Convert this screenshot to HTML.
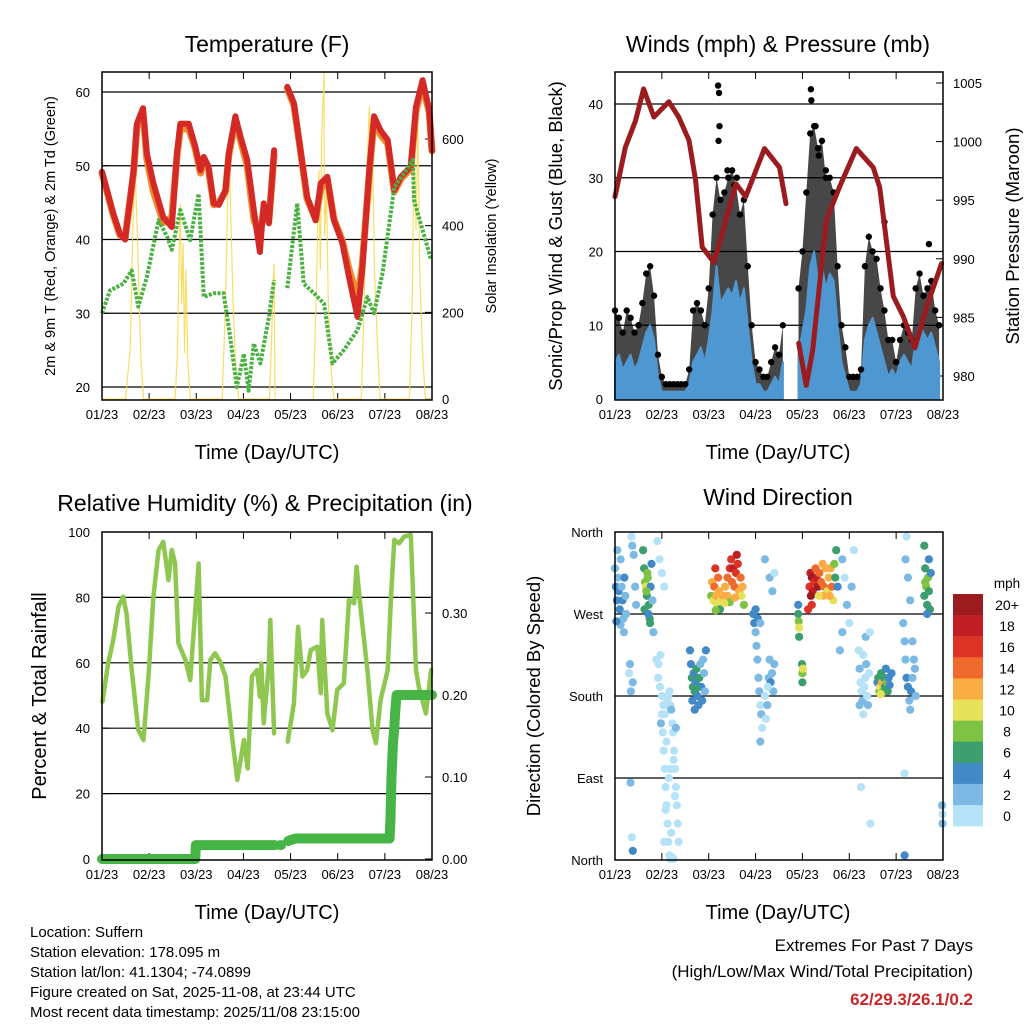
<!DOCTYPE html>
<html><head><meta charset="utf-8"><style>
html,body{margin:0;padding:0;background:#fff;}
svg{display:block;font-family:"Liberation Sans",Arial,sans-serif;}
</style></head><body>
<svg id="s" width="1024" height="1024" viewBox="0 0 1024 1024">
<rect width="1024" height="1024" fill="#fff"/>
<g id="g"></g>
<text x="267" y="52" font-size="23" text-anchor="middle">Temperature (F)</text>
<text x="778" y="52" font-size="23" text-anchor="middle">Winds (mph) &amp; Pressure (mb)</text>
<text x="265" y="511" font-size="23" text-anchor="middle">Relative Humidity (%) &amp; Precipitation (in)</text>
<text x="778" y="505" font-size="23" text-anchor="middle">Wind Direction</text>
<text x="267" y="459" font-size="20" text-anchor="middle">Time (Day/UTC)</text>
<text x="778" y="459" font-size="20" text-anchor="middle">Time (Day/UTC)</text>
<text x="267" y="919" font-size="20" text-anchor="middle">Time (Day/UTC)</text>
<text x="778" y="919" font-size="20" text-anchor="middle">Time (Day/UTC)</text>
<text transform="translate(55,236) rotate(-90)" font-size="14.5" text-anchor="middle">2m &amp; 9m T (Red, Orange) &amp; 2m Td (Green)</text>
<text transform="translate(496,236) rotate(-90)" font-size="14.5" text-anchor="middle">Solar Insolation (Yellow)</text>
<text transform="translate(562,236) rotate(-90)" font-size="18.5" text-anchor="middle">Sonic/Prop Wind &amp; Gust (Blue, Black)</text>
<text transform="translate(1019,236) rotate(-90)" font-size="18.5" text-anchor="middle">Station Pressure (Maroon)</text>
<text transform="translate(46,696) rotate(-90)" font-size="20" text-anchor="middle">Percent &amp; Total Rainfall</text>
<text transform="translate(540,696) rotate(-90)" font-size="18.5" text-anchor="middle">Direction (Colored By Speed)</text>
<g font-size="15">
<text x="30" y="937">Location: Suffern</text>
<text x="30" y="957">Station elevation: 178.095 m</text>
<text x="30" y="977">Station lat/lon: 41.1304; -74.0899</text>
<text x="30" y="997">Figure created on Sat, 2025-11-08, at 23:44 UTC</text>
<text x="30" y="1017">Most recent data timestamp: 2025/11/08 23:15:00</text>
</g>
<g font-size="17" text-anchor="end">
<text x="973" y="951">Extremes For Past 7 Days</text>
<text x="973" y="977">(High/Low/Max Wind/Total Precipitation)</text>
<text x="973" y="1005" fill="#c8282a" font-weight="bold">62/29.3/26.1/0.2</text>
</g>
</svg>
<script>
// ---------- data ----------
const dayLabels=["01/23","02/23","03/23","04/23","05/23","06/23","07/23","08/23"];
const tempTicks=[20,30,40,50,60];
const solarTicks=[0,200,400,600];
const windTicks=[0,10,20,30,40];
const presTicks=[980,985,990,995,1000,1005];
const rhTicks=[0,20,40,60,80,100];
const precipTicks=["0.00","0.10","0.20","0.30"];
const dirLabels=["North","East","South","West","North"];
const dirTicks=[0,90,180,270,360];
const speedBins=["0","2","4","6","8","10","12","14","16","18","20+"];
const speedColors=["#b5e2f7","#7cbae3","#4189c7","#3c9e6c","#7dc242","#e6e159","#f8ad45","#ef6a2c","#dd3327","#c11e24","#9b1b1e"];

const tempT=[0,0.24,0.38,0.49,0.67,0.74,0.87,0.95,1.09,1.3,1.48,1.59,1.66,1.84,1.98,2.09,2.16,2.26,2.37,2.48,2.62,2.69,2.83,2.94,3.08,3.22,3.35,3.43,3.54,3.65,null,3.93,4.07,4.21,4.35,4.53,4.64,4.78,4.92,5.1,5.24,5.42,5.52,5.67,5.77,5.91,6.06,6.2,6.34,6.55,6.66,6.8,6.94,7.0];
const tempRed=[49.2,43.5,40.8,40,49.4,55.7,57.8,51.7,47.6,43,41.7,51.7,55.7,55.7,52.6,49.4,51.2,49.9,44.9,44.7,46.7,51.7,56.7,53.9,50.8,44,38.3,44.9,42.2,52.1,null,60.7,58.5,52.1,45.8,42.6,47.6,48.5,42.6,39.5,34.9,29.5,35.8,49.4,56.7,54.8,53.5,46.7,48.5,49.9,58,61.6,57.6,52.1];
const tempOrange=[49,43.3,40.6,40.2,49,55.2,57.2,51,46.5,42.3,43,51.3,55,55,52.3,49,50.8,49.5,44.7,45,46.5,51.4,56.2,53.4,50,42.8,40.5,44,42.5,51.5,null,60.5,58.2,52,45.5,42.8,46.8,48.2,42.8,39.8,36,32,36.5,49,56,54.2,53,46.5,48.2,49.6,57.4,61,57.2,52];
const tdT=[0,0.17,0.45,0.63,0.77,0.95,1.2,1.38,1.48,1.66,1.87,2.05,2.16,2.37,2.58,2.72,2.86,3.01,3.11,3.22,3.36,3.54,3.65,null,3.93,4.14,4.28,4.5,4.71,4.89,5.13,5.42,5.63,5.77,5.95,6.2,6.41,6.59,6.62,6.84,6.98];
const tdVal=[30,33.1,34,35.8,30.9,34.9,42.6,40.4,38.6,44,39.9,46.2,32.2,32.7,32.7,26.8,20,24.5,19.5,25.9,23.2,29.5,34.5,null,33.4,44.9,34,32.7,31.3,23.2,25,27.7,32.2,30,35.4,47.1,49,50.8,45.3,40.4,37.2];
const solarT=[0,0.5,0.6,0.65,0.7,0.75,0.82,0.88,1.55,1.6,1.63,1.66,1.69,1.72,1.75,1.78,1.82,1.87,2.55,2.62,2.68,2.7,2.74,2.78,2.84,2.9,3.55,3.6,3.63,3.65,3.67,null,4.48,4.55,4.6,4.63,4.66,4.71,4.72,4.76,4.8,4.86,4.92,5.5,5.56,5.62,5.67,5.7,5.74,5.78,5.85,5.9,6.52,6.58,6.62,6.66,6.7,6.74,6.8,6.86,7.0];
const solarVal=[0,0,120,375,536,375,105,0,0,105,298,451,221,359,105,298,90,0,0,221,528,551,390,221,67,0,0,144,267,313,0,null,0,259,528,298,605,755,375,490,221,67,0,0,221,528,674,451,567,298,105,0,0,221,605,390,628,298,105,0,0];

const windAvg=[5,6,4,5,6,4,5,7,9,10,8,3, 1,1,1,1,1,1,1,2,5,6,7,5, 8,12,18,13,14,15,14,16,13,15,10,5, 2,2,1,1,2,3,2,5,null,null,null,6, 9,12,18,20,16,18,15,17,16,10,5,3, 1,1,1,2,8,10,11,9,7,5,3,4, 3,5,6,5,4,8,10,9,8,9,7,5];
const windGust=[12,11,9,12,11,9,10,13,17,18,14,6, 3,2,2,2,2,2,2,4,12,13,12,10, 15,25,30,27,28,30,31,29,25,27,18,10, 5,4,3,3,5,7,6,10,null,null,null,15, 20,28,36,37,34,35,30,30,28,18,10,7, 3,3,3,4,18,22,20,19,15,12,8,8, 5,8,10,9,8,15,17,14,15,16,12,10];
const gustOutlierT=[2.2,2.22,2.23,2.21,4.18,4.19,4.28,2.4,2.6,4.35,5.75,6.7,2.55,4.5];
const gustOutlierV=[42.5,41.5,37,35,42,40.5,37,31,30,33,24,21,29,31];
const presT=[0,0.22,0.44,0.61,0.83,1.15,1.36,1.58,1.72,1.86,2.11,2.29,2.58,2.79,3.19,3.51,3.65,null,3.92,4.08,4.22,4.51,4.79,5.15,5.51,5.65,5.94,6.15,6.4,6.65,6.97];
const presVal=[995.3,999.5,1001.8,1004.5,1002.1,1003.4,1002.1,1000.1,996.7,991,989.7,992.2,996.4,995.3,999.4,997.8,994.7,null,982.8,979.2,982.2,993.3,996.1,999.4,997.8,996.1,986.8,985.1,982.4,985.9,989.6];

const rhT=[0.01,0.13,0.24,0.35,0.45,0.52,0.63,0.77,0.88,0.99,1.09,1.2,1.3,1.41,1.48,1.55,1.62,1.77,1.87,1.98,2.05,2.12,2.23,2.3,2.4,2.51,2.62,2.76,2.87,3.01,3.09,3.18,3.29,3.35,3.38,3.43,3.54,3.57,3.65,null,3.94,4.07,4.16,4.25,4.35,4.43,4.57,4.64,4.67,4.78,4.89,4.99,5.13,5.24,5.35,5.4,5.49,5.63,5.74,5.81,5.91,6.06,6.13,6.2,6.3,6.41,6.55,6.66,6.72,6.87,6.98];
const rhVal=[48.1,59.8,67,77.2,80.2,75.1,57.8,39.4,36.4,56.8,80.2,94.5,97,85.3,94.5,90.4,66,60.9,54.7,76.1,90.4,48.6,48.6,60.9,62.9,60.3,55.8,37.4,24.2,36.4,27.7,55.8,57.8,49.6,59.8,41.5,59.8,73.1,38.4,null,35.9,47.6,71,55.8,57.8,63.9,64.9,50.7,73.1,44.5,39.4,51.7,53.7,79.2,78.2,89.4,76.1,57.8,39.4,35.4,48.6,57.8,80.2,97.6,96.5,98.6,99.1,57.8,52.7,44.5,57.8];
const precipT=[0,1.98,1.99,3.67,null,3.78,3.8,null,3.95,4.1,6.1,6.12,6.14,6.17,6.2,6.22,6.25,7.0];
const precipVal=[0,0,0.017,0.017,null,0.017,0.017,null,0.022,0.025,0.025,0.05,0.1,0.14,0.16,0.18,0.2,0.2];

const windDirPoints=[
[0.0,320,3],[0.02,300,4],[0.04,285,4],[0.06,310,3],[0.08,295,5],[0.1,275,4],[0.12,330,2],[0.14,300,3],[0.16,285,4],[0.18,265,3],[0.2,310,4],[0.22,290,2],[0.24,270,3],[0.05,340,2],[0.12,258,2],[0.19,250,3],[0.03,262,4],
[0.35,355,1],[0.37,345,2],[0.4,335,3],[0.43,300,2],[0.45,280,3],[0.3,205,1],[0.32,215,3],[0.34,185,2],[0.38,195,2],[0.33,85,2],[0.36,25,1],[0.38,10,4],
[0.6,340,6],[0.62,320,7],[0.64,305,8],[0.66,300,10],[0.68,290,7],[0.7,310,9],[0.72,280,6],[0.74,265,7],[0.76,300,5],[0.78,325,4],[0.8,285,3],[0.63,275,6],[0.69,315,8],[0.71,270,5],[0.82,250,3],[0.67,295,8],[0.75,260,6],
[0.9,350,1],[0.95,330,1],[1.0,315,0],[1.05,300,1],[0.88,220,1],[0.92,200,1],[0.96,190,0],[1.0,180,1],[1.03,170,0],[1.06,160,1],[0.98,150,2],[0.93,215,0],
[1.0,160,0],[1.02,140,1],[1.04,120,0],[1.06,100,0],[1.08,80,1],[1.1,60,0],[1.12,40,0],[1.14,20,1],[1.16,5,0],[1.18,1,0],[1.2,2,1],[1.22,3,0],[1.25,1,0],[1.1,170,0],[1.12,175,1],[1.14,180,0],[1.16,185,1],[1.18,170,0],[1.2,165,2],[1.22,150,1],[1.24,140,0],[1.26,120,1],[1.28,100,0],[1.3,80,1],[1.32,60,0],[1.34,40,1],[1.36,20,0],[1.05,20,1],[1.08,55,1],[1.15,90,0],[1.25,110,0],[1.3,145,3],[1.2,30,0],[1.28,70,1],[1.1,130,1],[1.18,100,0],[0.97,225,1],
[1.6,230,4],[1.62,215,5],[1.64,200,6],[1.66,190,7],[1.68,205,5],[1.7,185,6],[1.72,195,4],[1.74,210,7],[1.76,180,5],[1.78,170,4],[1.8,200,6],[1.82,215,3],[1.84,190,4],[1.86,175,4],[1.88,220,3],[1.9,205,2],[1.92,185,3],[1.94,230,4],[1.65,175,5],[1.73,188,6],[1.7,165,4],
[2.05,290,8],[2.07,305,12],[2.1,285,11],[2.12,300,14],[2.14,320,16],[2.16,290,13],[2.18,280,10],[2.2,310,14],[2.22,295,12],[2.24,275,6],[2.26,285,10],[2.3,290,12],[2.35,300,12],[2.4,310,14],[2.45,320,16],[2.48,330,17],[2.5,305,15],[2.52,320,18],[2.55,300,14],[2.58,315,16],[2.6,335,18],[2.62,325,16],[2.65,295,12],[2.68,310,15],[2.7,290,10],[2.72,300,13],[2.75,280,8],[2.4,290,12],[2.45,283,8],[2.56,288,12],[2.33,282,11],[2.15,274,9],
[2.95,270,4],[2.97,260,4],[3.0,250,3],[3.02,235,2],[3.04,220,3],[3.06,200,2],[3.08,185,2],[3.1,170,1],[3.12,160,2],[3.14,145,1],[3.05,265,4],[3.1,260,3],[3.0,275,4],[3.2,180,1],[3.25,170,2],[3.28,200,3],[3.3,220,2],[3.32,195,4],[3.35,205,3],[3.38,185,2],[3.22,155,1],[3.26,190,1],[3.4,215,2],[3.2,330,2],[3.3,310,2],[3.36,295,2],[3.1,130,2],[3.4,315,1],
[3.91,270,6],[3.92,262,8],[3.93,255,10],[3.91,280,4],[3.93,245,6],[3.99,215,6],[4.0,205,8],[4.01,210,10],[4.0,195,7],
[4.15,300,16],[4.17,315,18],[4.2,310,20],[4.22,295,18],[4.25,305,16],[4.28,320,14],[4.3,310,18],[4.33,300,20],[4.36,315,14],[4.4,305,15],[4.43,325,12],[4.46,300,14],[4.5,320,12],[4.53,295,10],[4.56,310,13],[4.6,320,12],[4.63,300,14],[4.66,285,10],[4.68,325,8],[4.7,310,6],[4.72,340,6],[4.75,300,4],[4.2,280,17],[4.18,290,20],[4.45,290,13],[4.58,290,12],[4.35,290,11],[4.12,275,16],
[4.85,330,2],[4.9,310,1],[4.95,280,2],[5.0,260,1],[5.05,300,2],[5.1,340,1],[4.8,230,2],[4.85,250,2],
[5.2,230,0],[5.22,210,2],[5.24,195,1],[5.26,185,0],[5.28,175,2],[5.3,160,1],[5.32,190,0],[5.34,200,1],[5.36,215,2],[5.38,180,0],[5.4,170,3],[5.42,205,1],[5.22,170,2],[5.3,225,0],[5.35,245,3],[5.44,250,1],[5.25,80,1],[5.45,40,1],
[5.6,195,5],[5.62,200,7],[5.64,185,8],[5.66,190,10],[5.68,205,6],[5.7,195,12],[5.72,185,9],[5.74,200,7],[5.76,190,6],[5.78,210,5],[5.8,195,8],[5.82,185,6],[5.84,200,5],[5.86,192,4],[5.9,205,5],[5.67,182,10],
[6.15,260,2],[6.18,240,2],[6.2,220,3],[6.22,200,4],[6.25,190,4],[6.28,175,3],[6.3,165,2],[6.32,185,4],[6.35,200,3],[6.38,220,2],[6.4,210,3],[6.2,330,2],[6.22,355,1],[6.25,310,3],[6.3,285,2],[6.18,95,1],[6.18,5,4],[6.35,240,2],[6.42,180,2],
[6.6,290,7],[6.62,305,8],[6.64,300,9],[6.66,280,6],[6.68,310,8],[6.7,295,7],[6.72,275,6],[6.74,315,5],[6.62,320,7],[6.6,345,6],[6.7,330,4],[6.66,270,4],[6.98,60,3],[6.99,40,2],[6.99,50,1]];

// ---------- rendering ----------
const NS="http://www.w3.org/2000/svg";
const G=document.getElementById('g');
function mk(tag,attrs,parent){const e=document.createElementNS(NS,tag);for(const k in attrs)e.setAttribute(k,attrs[k]);(parent||G).appendChild(e);return e;}
function linear(d0,d1,r0,r1){return v=>r0+(v-d0)*(r1-r0)/(d1-d0);}
function pathFrom(ts,vs,xs,ys){let d="",pen=false;for(let i=0;i<ts.length;i++){if(ts[i]===null||vs[i]===null){pen=false;continue;}d+=(pen?"L":"M")+xs(ts[i]).toFixed(1)+","+ys(vs[i]).toFixed(1);pen=true;}return d;}

const panels={
 tl:{x0:102,x1:432,y0:72,y1:400},tr:{x0:615,x1:943,y0:72,y1:400},
 bl:{x0:102,x1:432,y0:532,y1:860},br:{x0:615,x1:943,y0:532,y1:860}};
function frame(p,name,ys,ticks,labels){
 const xs=linear(0,7,p.x0,p.x1);
 const grp=mk('g',{});
 
 
 ticks.forEach((v,i)=>{const y=ys(v);
  if(y>p.y0+1&&y<p.y1-1){const l=mk('line',{x1:p.x0,x2:p.x1,y1:y,y2:y,stroke:'#000','stroke-width':1.2},grp);}
  const t=mk('text',{x:p.x0-12,y:y+5,'font-size':13,'text-anchor':'end'},grp);t.textContent=labels?labels[i]:v;
  
  mk('line',{x1:p.x0,x2:p.x0+7,y1:y,y2:y,stroke:'#000'},grp);
 });
 dayLabels.forEach((lab,i)=>{const x=xs(i);
  mk('line',{x1:x,x2:x,y1:p.y1,y2:p.y1-7,stroke:'#000'},grp);
  mk('line',{x1:x,x2:x,y1:p.y0,y2:p.y0+7,stroke:'#000'},grp);
  const t=mk('text',{x:x,y:p.y1+19,'font-size':13,'text-anchor':'middle'},grp);t.textContent=lab;
  
 });
 return xs;
}
function border(p,name){const r=mk('rect',{x:p.x0,y:p.y0,width:p.x1-p.x0,height:p.y1-p.y0,fill:'none',stroke:'#000','stroke-width':1.5});}
function rightAxis(p,name,ys,ticks,labels){ticks.forEach((v,i)=>{const y=ys(v);mk('line',{x1:p.x1,x2:p.x1-7,y1:y,y2:y,stroke:'#000'});
 const t=mk('text',{x:p.x1+10,y:y+5,'font-size':13});t.textContent=labels?labels[i]:v;});}

// Top-left temperature
(function(){const p=panels.tl;const yT=linear(20,60,387,92);const yS=linear(0,600,399,139);
 const xs=frame(p,'temperature',yT,tempTicks);
 rightAxis(p,'solar',yS,solarTicks);
 const s=mk('path',{d:pathFrom(solarT,solarVal,xs,yS),fill:'none',stroke:'#f7d84a','stroke-width':1.2,opacity:0.85});
 const o=mk('path',{d:pathFrom(tempT,tempOrange,xs,yT),fill:'none',stroke:'#f08a2e','stroke-width':7,'stroke-linejoin':'round','stroke-linecap':'round'});
 const r=mk('path',{d:pathFrom(tempT,tempRed,xs,yT),fill:'none',stroke:'#d42a27','stroke-width':6,'stroke-linejoin':'round','stroke-linecap':'round'});
 const g=mk('path',{d:pathFrom(tdT,tdVal,xs,yT),fill:'none',stroke:'#4ab043','stroke-width':4,'stroke-dasharray':'3 1.5','stroke-linejoin':'round'});
 border(p,'temperature');})();

// Top-right winds
(function(){const p=panels.tr;const yW=linear(0,40,399,104);const yP=linear(980,1005,376,83);
 const xs=frame(p,'winds',yW,windTicks);
 rightAxis(p,'pressure',yP,presTicks);
 const tw=windAvg.map((v,i)=>i/12);
 let seg=[];const segs=[];
 for(let i=0;i<tw.length;i++){if(windAvg[i]===null){if(seg.length)segs.push(seg);seg=[];}else seg.push(i);} if(seg.length)segs.push(seg);
 segs.forEach(sg=>{let d="";sg.forEach((i,k)=>{d+=(k?"L":"M")+xs(tw[i]).toFixed(1)+","+yW(windGust[i]).toFixed(1);});
  for(let k=sg.length-1;k>=0;k--){const i=sg[k];d+="L"+xs(tw[i]).toFixed(1)+","+yW(windAvg[i]*0.7).toFixed(1);}d+="Z";
  const b=mk('path',{d:d,fill:'#000','fill-opacity':0.72,stroke:'none'});
  let d2="";sg.forEach((i,k)=>{d2+=(k?"L":"M")+xs(tw[i]).toFixed(1)+","+yW(windAvg[i]).toFixed(1);});
  d2+="L"+xs(tw[sg[sg.length-1]]).toFixed(1)+","+yW(0)+"L"+xs(tw[sg[0]]).toFixed(1)+","+yW(0)+"Z";
  const a=mk('path',{d:d2,fill:'#4f97d0',stroke:'#4f97d0','stroke-width':2,'stroke-linejoin':'round'});
 });
 tw.forEach((t,i)=>{if(windGust[i]===null)return;const c=mk('circle',{cx:xs(t),cy:yW(windGust[i]),r:3.2,fill:'#000'});});
 gustOutlierT.forEach((t,i)=>{const c=mk('circle',{cx:xs(t),cy:yW(gustOutlierV[i]),r:3.2,fill:'#000'});});
 const pr=mk('path',{d:pathFrom(presT,presVal,xs,yP),fill:'none',stroke:'#9b1c1f','stroke-width':5,'stroke-linejoin':'round','stroke-linecap':'round'});
 border(p,'winds');})();

// Bottom-left RH & precip
(function(){const p=panels.bl;const yR=linear(0,100,859,532);const yPr=linear(0,0.1,859,777);
 const xs=frame(p,'humidity',yR,rhTicks);
 rightAxis(p,'precip',v=>yPr(parseFloat(v)),precipTicks);
 const r=mk('path',{d:pathFrom(rhT,rhVal,xs,yR),fill:'none',stroke:'#8dc74f','stroke-width':4.5,'stroke-linejoin':'round','stroke-linecap':'round'});
 const q=mk('path',{d:pathFrom(precipT,precipVal,xs,yPr),fill:'none',stroke:'#47b446','stroke-width':10,'stroke-linejoin':'round','stroke-linecap':'round'});
 border(p,'humidity');})();

// Bottom-right wind direction
(function(){const p=panels.br;const yD=linear(0,360,860,532);
 const xs=frame(p,'wind-direction',yD,dirTicks,dirLabels);
 windDirPoints.forEach(pt=>{const bin=Math.min(10,Math.floor(pt[2]/2));
  const c=mk('circle',{cx:xs(pt[0]).toFixed(1),cy:yD(pt[1]).toFixed(1),r:4.1,fill:speedColors[bin]});
  });
 border(p,'wind-direction');
 const lg=mk('g',{});
 const lt=mk('text',{x:1007,y:588,'font-size':13.5,'text-anchor':'middle'},lg);lt.textContent='mph';
 for(let k=0;k<speedBins.length;k++){const idx=speedBins.length-1-k;const y=594+k*21.1;
  const rr=mk('rect',{x:953,y:y,width:30,height:21.4,fill:speedColors[idx]},lg);
  const tx=mk('text',{x:1007,y:y+16,'font-size':14,'text-anchor':'middle'},lg);tx.textContent=speedBins[idx];}
})();
</script>
</body></html>
